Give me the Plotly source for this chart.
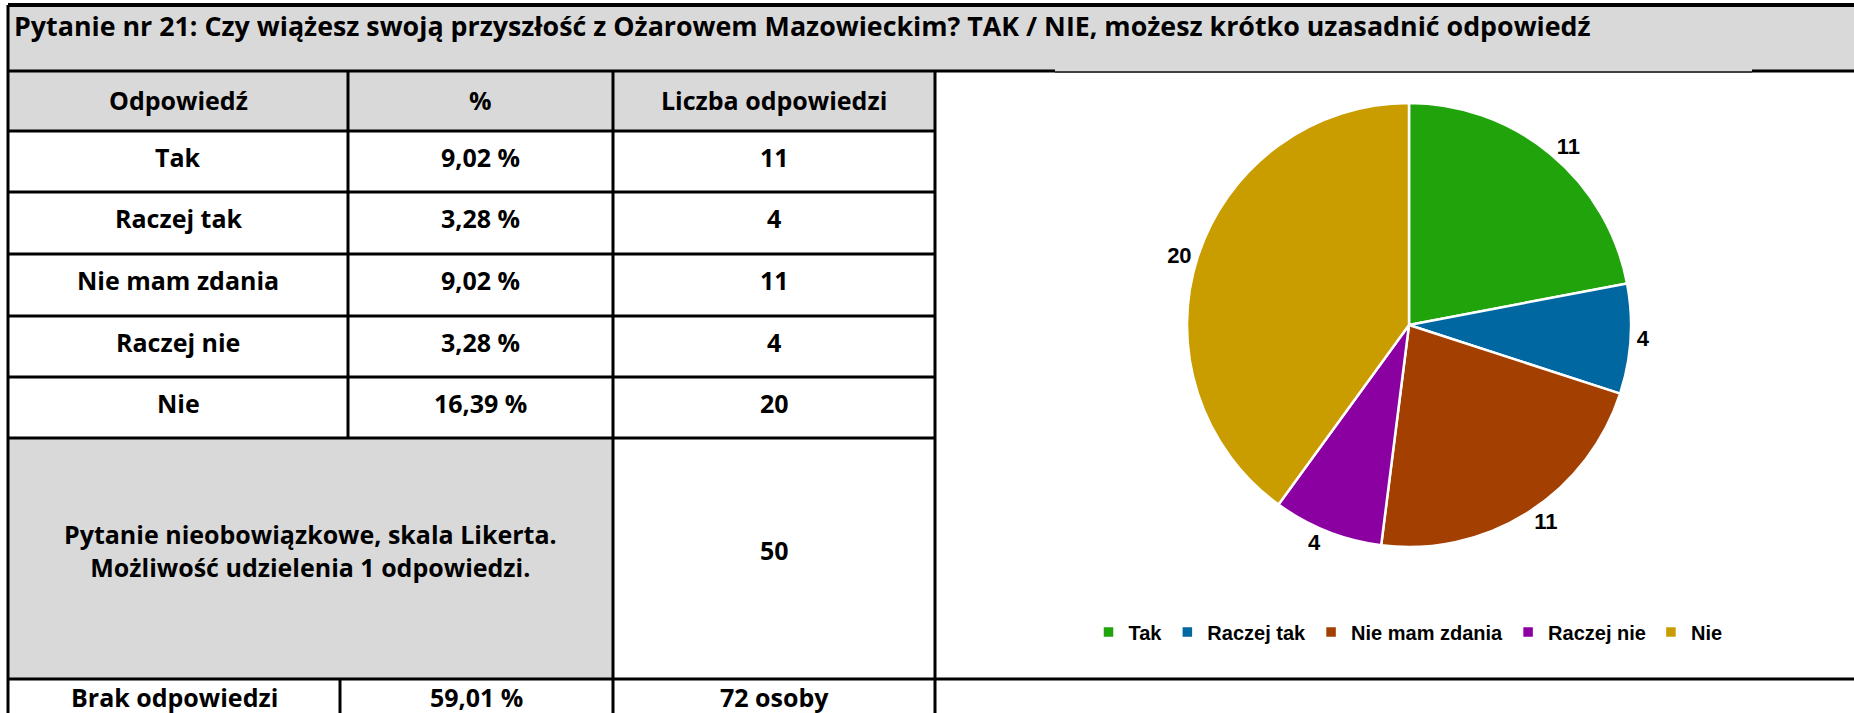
import plotly.graph_objects as go

# survey question 21
question = "Pytanie nr 21: Czy wiążesz swoją przyszłość z Ożarowem Mazowieckim? TAK / NIE, możesz krótko uzasadnić odpowiedź"
header = ["Odpowiedź", "%", "Liczba odpowiedzi"]
answers = ["Tak", "Raczej tak", "Nie mam zdania", "Raczej nie", "Nie"]
percents = ["9,02 %", "3,28 %", "9,02 %", "3,28 %", "16,39 %"]
counts = [11, 4, 11, 4, 20]
note = "Pytanie nieobowiązkowe, skala Likerta.<br>Możliwość udzielenia 1 odpowiedzi."
answered = 50
missing = ["Brak odpowiedzi", "59,01 %", "72 osoby"]
colors = ["#21a30b", "#0067a1", "#a33f00", "#8b00a0", "#c99c00"]

W, H = 1854, 713


def X(px):
    return px / W


def Y(py):
    return 1 - py / H


GRAY = "#d9d9d9"
shapes = []


def rect(x0, y0, x1, y1, color):
    shapes.append(dict(type="rect", xref="paper", yref="paper", layer="below",
                       x0=X(x0), x1=X(x1), y0=Y(y0), y1=Y(y1),
                       fillcolor=color, line=dict(width=0)))


def line(x0, y0, x1, y1, w=3, color="black"):
    shapes.append(dict(type="line", xref="paper", yref="paper",
                       x0=X(x0), x1=X(x1), y0=Y(y0), y1=Y(y1),
                       line=dict(color=color, width=w)))


# table geometry (pixels)
left, c1, c2, c3, c1b = 8, 348, 613, 935, 340
rows = [71, 131, 192, 254, 316, 377, 438]
note_bottom = 679

rect(left, 5, W, rows[0], GRAY)
rect(left, rows[0], c3, rows[1], GRAY)
rect(left, rows[-1], c2, note_bottom, GRAY)

line(left, 5, W, 5, 4)
line(left, 5, left, H, 3)
line(left, rows[0], 1055, rows[0], 3)
line(1055, rows[0] + 1, 1752, rows[0] + 1, 1.5)
line(1752, rows[0], W, rows[0], 3)
for r in rows[1:]:
    line(left, r, c3, r, 3)
line(c1, rows[0], c1, rows[-1], 3)
line(c2, rows[0], c2, H, 3)
line(c3, rows[0], c3, H, 3)
line(c1b, note_bottom, c1b, H, 3)
line(left, note_bottom, W, note_bottom, 3)

TFONT = dict(family="Open Sans", size=25, color="black", weight="bold")
annotations = []


def text(s, x, y, anchor="center", size=25):
    f = dict(TFONT, size=size)
    annotations.append(dict(text=s, x=X(x), y=Y(y), xref="paper", yref="paper",
                            xanchor=anchor, yanchor="middle", showarrow=False, font=f))


text(question, 12, 25, anchor="left", size=26.8)
cols = [(left + c1) / 2, (c1 + c2) / 2, (c2 + c3) / 2]
for cx, h in zip(cols, header):
    text(h, cx, 100)
for i in range(len(answers)):
    cy = (rows[i + 1] + rows[i + 2]) / 2 - 5
    text(answers[i], cols[0], cy)
    text(percents[i], cols[1], cy)
    text(str(counts[i]), cols[2], cy)
text(note, (left + c2) / 2, 550)
text(str(answered), cols[2], 550)
text(missing[0], (left + c1b) / 2, 697)
text(missing[1], (c1b + c2) / 2, 697)
text(missing[2], cols[2], 697)

# pie
cx, cy, rad = 1409, 325, 222
pie = go.Pie(
    labels=answers,
    values=counts,
    sort=False,
    direction="clockwise",
    rotation=0,
    marker=dict(colors=colors, line=dict(color="white", width=2.5)),
    texttemplate="%{value}",
    textposition="outside",
    textfont=dict(family="Liberation Sans", size=22, color="black", weight="bold"),
    domain=dict(x=[X(cx - rad), X(cx + rad)], y=[Y(cy + rad), Y(cy - rad)]),
    hoverinfo="label+value",
)

fig = go.Figure([pie])
fig.update_layout(
    width=W, height=H,
    margin=dict(l=0, r=0, t=0, b=0),
    paper_bgcolor="white",
    plot_bgcolor="white",
    shapes=shapes,
    annotations=annotations,
    showlegend=True,
    legend=dict(orientation="h", x=X(1408), xanchor="center", y=Y(632), yanchor="middle",
                font=dict(family="Liberation Sans", size=20, color="black", weight="bold"),
                itemwidth=30, traceorder="normal"),
)

fig.write_html("out.html", config={"displayModeBar": False},
               post_script="document.body.style.margin='0';")
